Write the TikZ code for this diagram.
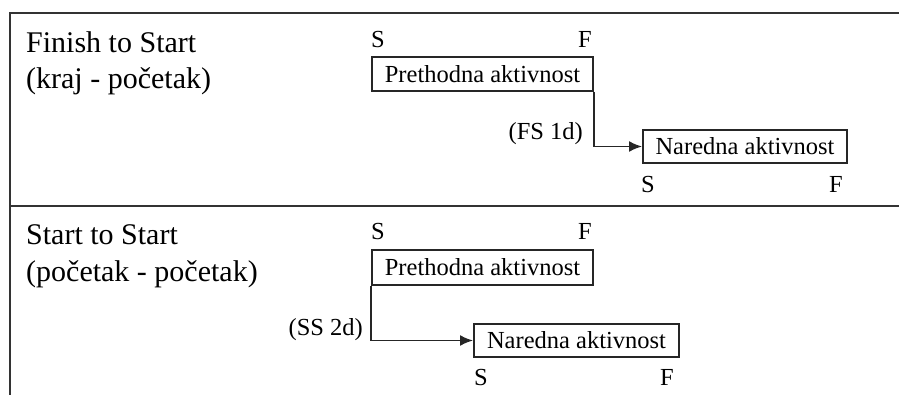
\documentclass[tikz,border=0pt]{standalone}
\usepackage{fontspec}
\setmainfont{Liberation Serif}
\usetikzlibrary{arrows.meta}
\begin{document}
\begin{tikzpicture}[x=1pt,y=-1pt,
  frame/.style={line width=2.2pt,draw=black!80},
  actbox/.style={draw=black!85,line width=1.9pt,inner sep=0pt,font=\fontsize{24.5}{28}\selectfont},
  lbl/.style={inner sep=0pt,anchor=base,font=\fontsize{24.5}{28}\selectfont},
  title/.style={inner sep=0pt,anchor=base west,font=\fontsize{30}{36}\selectfont},
  link/.style={line width=1.9pt,draw=black!85,-{Latex[length=13pt,width=11pt]}}]
\useasboundingbox (0,0) rectangle (899,395);
% frame
\coordinate (tl) at (10,13);
\coordinate (tr) at (899,13);
\coordinate (ml) at (10,206);
\coordinate (mr) at (899,206);
\coordinate (bl) at (10,395);
\draw[frame] (tr) -- (tl) -- (bl);
\draw[frame] (ml) -- (mr);
% section 1
\node[title] (t1) at (26,53) {Finish to Start};
\node[title] (t1b) at (26,89) {(kraj - početak)};
\node[actbox,minimum width=221pt,minimum height=34pt] (p1) at (482.5,74) {Prethodna aktivnost};
\node[actbox,minimum width=204pt,minimum height=33pt] (n1) at (745,146.5) {Naredna aktivnost};
\node[lbl] (s1) at (378,48) {S};
\node[lbl] (f1) at (585,48) {F};
\node[lbl] (s2) at (648,193) {S};
\node[lbl] (f2) at (836,193) {F};
\node[lbl,anchor=base east] (fs) at (583,140) {(FS 1d)};
\draw[link] (p1.south east) |- (n1.west);
% section 2
\node[title] (t2) at (26,245) {Start to Start};
\node[title] (t2b) at (26,282) {(početak - početak)};
\node[actbox,minimum width=221pt,minimum height=35pt] (p2) at (482.5,267.5) {Prethodna aktivnost};
\node[actbox,minimum width=205pt,minimum height=33pt] (n2) at (576.5,340.5) {Naredna aktivnost};
\node[lbl] (s3) at (378,240) {S};
\node[lbl] (f3) at (585,240) {F};
\node[lbl] (s4) at (481,385) {S};
\node[lbl] (f4) at (667,385) {F};
\node[lbl,anchor=base east] (ss) at (363,335) {(SS 2d)};
\draw[link] (p2.south west) |- (n2.west);
\end{tikzpicture}
\end{document}
